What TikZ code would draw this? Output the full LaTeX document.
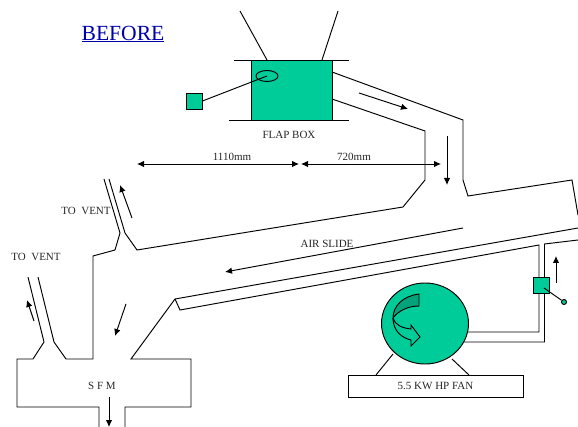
\documentclass[tikz,border=0pt]{standalone}
\usepackage{fontspec}
\usetikzlibrary{shapes.geometric,arrows.meta}
\setmainfont{Liberation Serif}
\begin{document}
\begin{tikzpicture}
[x=1pt,y=-1pt, line width=.95pt, >={Latex[length=7pt,width=6.5pt]},
g/.style={draw,fill=fanGreen,inner sep=0pt,minimum size=16pt},
t/.style={inner sep=0pt,text=black!85,font=\fontsize{11}{12}\selectfont},
e/.style={inner sep=0pt,minimum size=0pt}]
\definecolor{fanGreen}{RGB}{0,204,153}
\definecolor{fanDark}{RGB}{0,163,122}
\definecolor{headBlue}{RGB}{0,0,170}
\useasboundingbox (0,0) rectangle (578,427);
% flap box
\node(box) at (291.5,90)[draw,fill=fanGreen,minimum width=81pt,minimum height=60pt,inner sep=0pt]{};
\coordinate(hl) at (240,11);\coordinate(hlb) at (267,60);\coordinate(hr) at (338,11);\coordinate(hrb) at (322,60);
\draw(hl)--(hlb);\draw(hr)--(hrb);
\coordinate(ta) at (234,60);\coordinate(tb) at (349,60);\coordinate(ba) at (229,120);\coordinate(bb) at (349,120);
\draw(ta)--(tb);\draw(ba)--(bb);
\node(flap) at (267,76)[draw,ellipse,minimum width=22pt,minimum height=11pt,inner sep=0pt]{};
\node(lever) at (194,101)[g]{};
\draw(lever.east)--(flap.center);
\node(flapbox) at (289,135)[t]{FLAP BOX};
\node(before) at (123,34)[e,text=headBlue,font=\fontsize{21.6}{24}\selectfont]{\underline{BEFORE}};
% duct from box to slide
\draw(332,72)--(463,120)--(463,180)--(468,196)--(572,180)--(578,215);
\draw(332,99)--(425,131)--(425,180)--(403,207)--(137,250)--(125,233)--(109,179);
\draw(104,179)--(120,233)--(115,250)--(93,256)--(93,359)--(66,359)--(54,342)--(38,277);
\draw(28,277)--(44,342)--(33,359)--(17,359)--(17,407)--(99,407)--(99,427);
\draw(125,427)--(125,407)--(191,407)--(191,359)--(131,359)--(175,299)--(578,228);
\draw(175,299)--(180,310)--(539,245)--(539,332)--(468,332);
\draw(578,240)--(544.5,244)--(544.5,342)--(463,342);
% fan
\node(fan) at (425,323.5)[draw,fill=fanGreen,ellipse,minimum width=87pt,minimum height=81pt,inner sep=0pt]{};
\node(base) at (435.5,386)[draw,minimum width=175pt,minimum height=22pt,inner sep=0pt,t]{5.5 KW HP FAN};
\draw(393,354)--(376,375);\draw(452,359)--(469,375);
\draw[fill=fanDark](419,294).. controls (403,296) and (393,306) .. (393,318).. controls (398,311) and (408,306) .. (419,306)--cycle;
\draw[fill=fanGreen](393,318).. controls (393,331) and (402,338) .. (411,340)--(411,346)--(420,337)--(411,325)--(411,329).. controls (402,328) and (395,325) .. (393,318);
% damper
\node(damper) at (541.5,285.5)[g]{};
\node(knob) at (564,302)[draw,fill=fanGreen,circle,minimum size=5pt,inner sep=0pt]{};
\draw(544,288)--(knob);
% labels
\node(vent1) at (86,211)[t]{TO\ \ VENT};\node(vent2) at (36,257)[t]{TO\ \ VENT};
\node(sfm) at (102,386)[t]{S F M};\node(slide) at (327,244)[t]{AIR SLIDE};
\node(dim1) at (232,157)[t]{1110mm};\node(dim2) at (354,157)[t]{720mm};
% arrows
\draw[<->](137,164)--(299,164);\draw[<->](301,164)--(441,164);
\draw[->](359,93)--(408,109);\draw[->](447,136)--(447,185);
\draw[->](463,228)--(225,272);\draw[->](556,283)--(556,256);
\draw[->](132,218)--(120,185);\draw[->](34,321)--(27,300);
\draw[->](126,304)--(115,336);\draw[->](109,397)--(109,427);
\end{tikzpicture}
\end{document}
